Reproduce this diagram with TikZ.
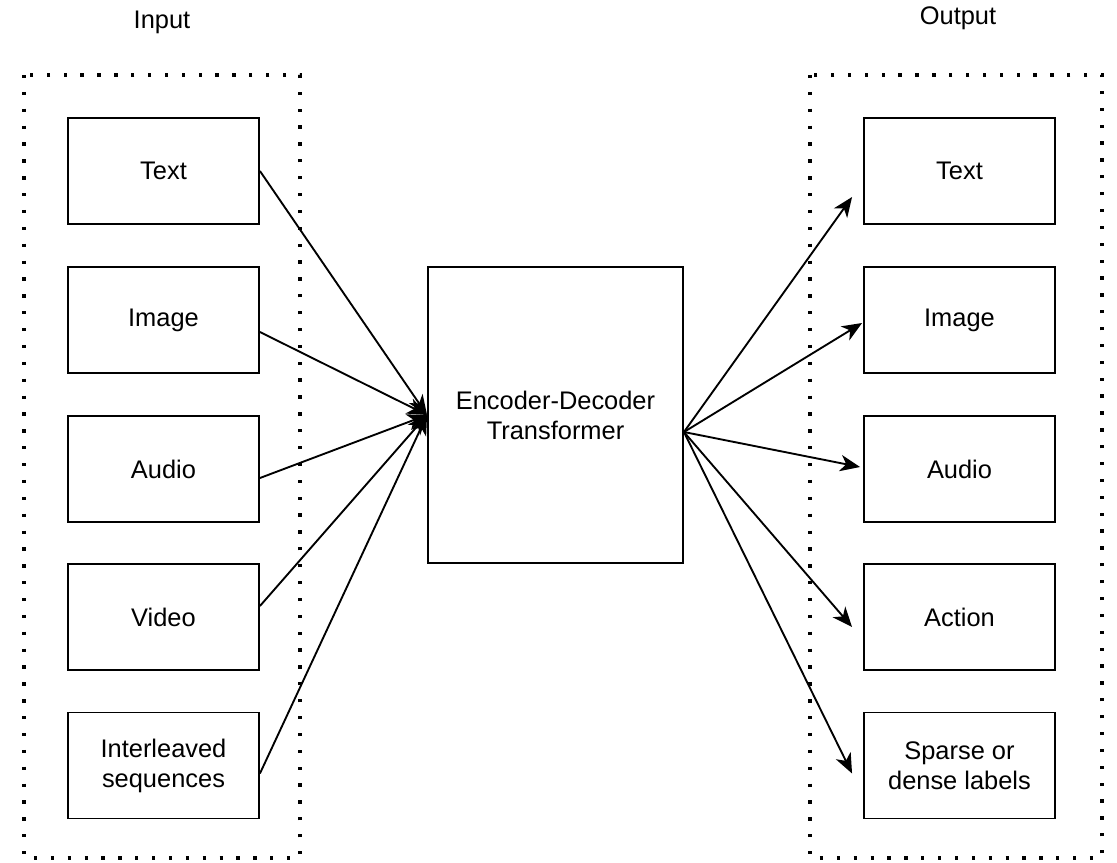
\documentclass[tikz,border=0pt]{standalone}
\usepackage{fontspec}
\setmainfont{Liberation Sans}
\usetikzlibrary{arrows.meta}

\tikzset{
	box/.style={draw,line width=1.6pt,minimum width=5.73cm,minimum height=3.18cm,
		align=center,font=\fontsize{21.7}{25.6}\selectfont},
	group/.style={line width=2.8pt,dash pattern=on 2.8pt off 11.6pt},
	arr/.style={line width=1.6pt,-{Stealth[length=17pt,width=14pt,inset=5pt]}},
	lbl/.style={font=\fontsize{21.7}{25.6}\selectfont}
}

\begin{document}
\begin{tikzpicture}[x=0.03cm,y=-0.03cm]
		
		\useasboundingbox (0,0) rectangle (1117,862);
		
		% groups
		\draw[group] (24,75) rectangle (300,858);
		\draw[group] (810,75) rectangle (1102,858);
		\node[lbl] (input) at (162,22) {Input};
		\node[lbl] (output) at (958,18) {Output};
		
		% inputs
		\node[box] (iText) at (163.5,171) {Text};
		\node[box] (iImage) at (163.5,320) {Image};
		\node[box] (iAudio) at (163.5,469) {Audio};
		\node[box] (iVideo) at (163.5,617) {Video};
		\node[box] (iMixed) at (163.5,765.5) {Interleaved\\sequences};
		
		% model
		\node[box,minimum width=7.65cm,minimum height=8.88cm] (model) at (555.5,415)
		{Encoder-Decoder\\Transformer};
		
		% outputs
		\node[box] (oText) at (959.5,171) {Text};
		\node[box] (oImage) at (959.5,320) {Image};
		\node[box] (oAudio) at (959.5,469) {Audio};
		\node[box] (oAction) at (959.5,617) {Action};
		\node[box] (oLabels) at (959.5,765.5) {Sparse or\\dense labels};
		
		\draw[arr] (iText.east) -- (model.west);
		\draw[arr] ([shift={(0,12)}]iImage.east) -- (model.west);
		\draw[arr] ([shift={(0,9)}]iAudio.east) -- (model.west);
		\draw[arr] ([shift={(0,-11)}]iVideo.east) -- (model.west);
		\draw[arr] ([shift={(0,8)}]iMixed.east) -- (model.west);
		
		\coordinate (fork) at ([shift={(0,17)}]model.east);
		\draw[arr] (fork) -- ([shift={(-11,26)}]oText.west);
		\draw[arr] (fork) -- ([shift={(-1,3)}]oImage.west);
		\draw[arr] (fork) -- ([shift={(-3,-2)}]oAudio.west);
		\draw[arr] (fork) -- ([shift={(-11,10)}]oAction.west);
		\draw[arr] (fork) -- ([shift={(-11,8)}]oLabels.west);
		
\end{tikzpicture}
\end{document}
